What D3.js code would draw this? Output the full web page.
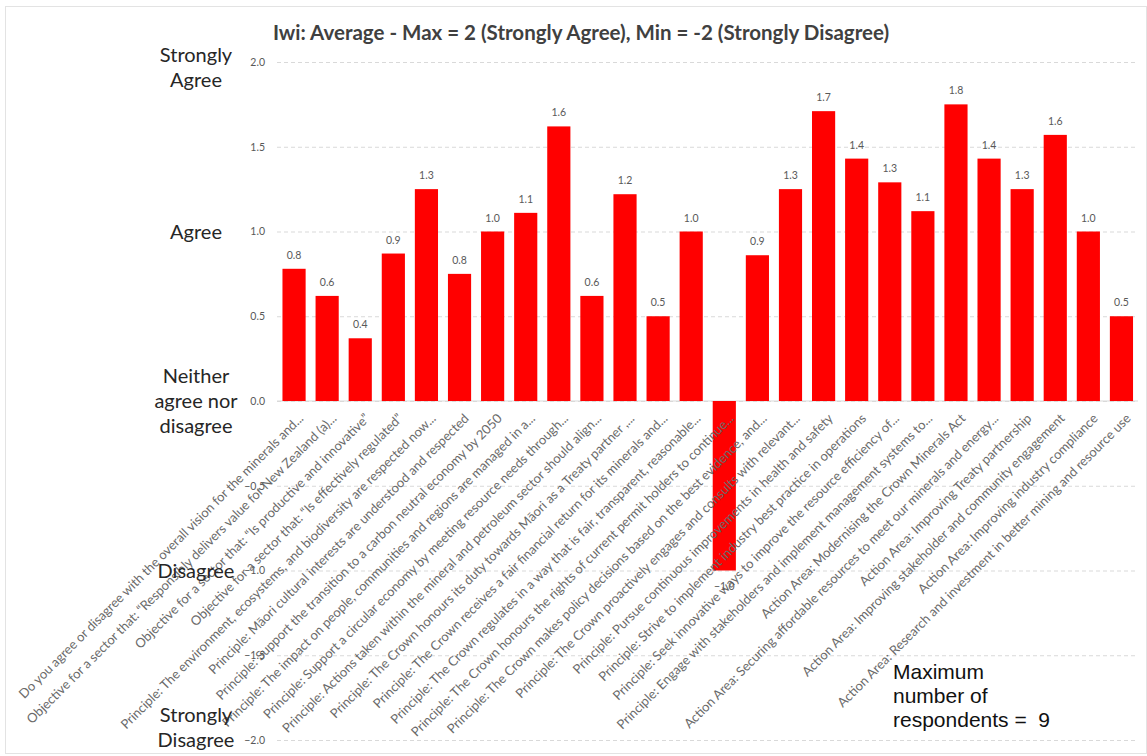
<!DOCTYPE html>
<html>
<head>
<meta charset="utf-8">
<script src="https://cdn.jsdelivr.net/npm/d3@7"></script>
<style>
  html, body { margin: 0; padding: 0; background: #fff; }
  svg { display: block; }
</style>
</head>
<body>
<svg id="chart" width="1147" height="756"></svg>
<script>
const categories = [
  "Do you agree or disagree with the overall vision for the minerals and...",
  "Objective for a sector that: \u201cResponsibly delivers value for New Zealand (a)...",
  "Objective for a sector that: \u201cIs productive and innovative\u201d",
  "Objective for a sector that: \u201cIs effectively regulated\u201d",
  "Principle: The environment, ecosystems, and biodiversity are respected now...",
  "Principle: M\u0101ori cultural interests are understood and respected",
  "Principle: Support the transition to a carbon neutral economy by 2050",
  "Principle: The impact on people, communities and regions are managed in a...",
  "Principle: Support a circular economy by meeting resource needs through...",
  "Principle: Actions taken within the mineral and petroleum sector should align...",
  "Principle: The Crown honours its duty towards M\u0101ori as a Treaty partner ,...",
  "Principle: The Crown receives a fair financial return for its minerals and...",
  "Principle: The Crown regulates in a way that is fair, transparent, reasonable...",
  "Principle: The Crown honours the rights of current permit holders to continue...",
  "Principle: The Crown makes policy decisions based on the best evidence, and...",
  "Principle: The Crown proactively engages and consults with relevant...",
  "Principle: Pursue continuous improvements in health and safety",
  "Principle: Strive to implement industry best practice in operations",
  "Principle: Seek innovative ways to improve the resource efficiency of...",
  "Principle: Engage with stakeholders and implement management systems to...",
  "Action Area: Modernising the Crown Minerals Act",
  "Action Area: Securing affordable resources to meet our minerals and energy...",
  "Action Area: Improving Treaty partnership",
  "Action Area: Improving stakeholder and community engagement",
  "Action Area: Improving industry compliance",
  "Action Area: Research and investment in better mining and resource use"
];
const averages = [0.78, 0.62, 0.37, 0.87, 1.25, 0.75, 1.0, 1.11, 1.62, 0.62, 1.22, 0.5, 1.0,
                  -1.0, 0.86, 1.25, 1.71, 1.43, 1.29, 1.12, 1.75, 1.43, 1.25, 1.57, 1.0, 0.5];
const yTicks = [-2, -1.5, -1, -0.5, 0, 0.5, 1, 1.5, 2];
const scaleLabelValues = [2, 1, 0, -1, -2];
const scaleLabelLines = [["Strongly", "Agree"], ["Agree"], ["Neither", "agree nor", "disagree"], ["Disagree"], ["Strongly", "Disagree"]];
const titleText = "Iwi: Average - Max = 2 (Strongly Agree), Min = -2 (Strongly Disagree)";
const noteLines = ["Maximum", "number of", "respondents =  9"];

const svg = d3.select("#chart");
const W = 1147, H = 756;
const plotLeft = 277, plotRight = 1138;
const font = "Lato, 'Open Sans', sans-serif";

// chart border
svg.append("rect").attr("x", 5.5).attr("y", 6.5).attr("width", W - 6).attr("height", 747)
  .attr("fill", "#fff").attr("stroke", "#e3e3e3").attr("stroke-width", 1);

const x = d3.scaleBand().domain(categories).range([plotLeft + 0.5, plotRight]).paddingInner(0.3).paddingOuter(0.15);
const y = d3.scaleLinear().domain([-2, 2]).range([740, 62]);

// y axis with gridlines
const yAxis = d3.axisLeft(y).tickValues(yTicks).tickFormat(d3.format(".1f"))
  .tickSize(-(plotRight - plotLeft)).tickPadding(12);
const gy = svg.append("g").attr("transform", `translate(${plotLeft},0)`).call(yAxis);
gy.select(".domain").remove();
gy.selectAll(".tick line").attr("stroke", "#d9d9d9").attr("stroke-dasharray", "4,3");
gy.selectAll(".tick text").attr("fill", "#595959").style("font-family", font).style("font-size", "10.5px");

// zero baseline
svg.append("line").attr("x1", plotLeft).attr("x2", plotRight).attr("y1", y(0)).attr("y2", y(0))
  .attr("stroke", "#d9d9d9").attr("stroke-width", 1);

// bars
svg.append("g").selectAll("rect").data(categories).join("rect")
  .attr("x", d => x(d))
  .attr("width", x.bandwidth())
  .attr("y", (d, i) => y(Math.max(0, averages[i])))
  .attr("height", (d, i) => Math.abs(y(averages[i]) - y(0)))
  .attr("fill", "#ff0000");

// category labels
svg.append("g").selectAll("text").data(categories).join("text")
  .attr("transform", d => `translate(${x(d) + x.bandwidth() / 2 + 7},${y(0) + 15}) rotate(-45)`)
  .attr("text-anchor", "end")
  .attr("dy", "0.35em")
  .attr("fill", "#6a6a6a")
  .style("font-family", font).style("font-size", "13px")
  .text(d => d);

// value labels
svg.append("g").selectAll("text").data(categories).join("text")
  .attr("x", d => x(d) + x.bandwidth() / 2)
  .attr("y", (d, i) => averages[i] >= 0 ? y(averages[i]) - 10 : y(averages[i]) + 19)
  .attr("text-anchor", "middle")
  .attr("fill", "#595959")
  .style("font-family", font).style("font-size", "10.5px")
  .text((d, i) => d3.format(".1f")(averages[i]));

// scale labels on the left
const sl = svg.append("g");
const lh = 25;
scaleLabelValues.forEach((v, j) => {
  const lines = scaleLabelLines[j];
  const n = lines.length;
  let first;
  if (v === 2) first = y(v) - 7;            // block hangs just below the top line
  else if (v === -2) first = y(v) - (n - 1) * lh; // last line sits on the bottom line
  else first = y(v) - (n - 1) * lh / 2;     // centred on the gridline
  const t = sl.append("text").attr("text-anchor", "middle").attr("fill", "#262626")
    .style("font-family", font).style("font-size", "20px");
  lines.forEach((line, k) => {
    t.append("tspan").attr("x", 196).attr("y", first + k * lh).attr("dy", "0.35em").text(line);
  });
});

// title
svg.append("text").attr("x", 581).attr("y", 33).attr("dy", "0.35em").attr("text-anchor", "middle")
  .attr("fill", "#404040").style("font-family", font).style("font-size", "20.5px").style("font-weight", "bold")
  .text(titleText);

// note
const note = svg.append("text").attr("fill", "#111")
  .style("font-family", "'Liberation Sans', Arial, sans-serif").style("font-size", "21px")
  .style("white-space", "pre");
noteLines.forEach((line, k) => {
  note.append("tspan").attr("x", 893).attr("y", 672 + k * 24).attr("dy", "0.35em").text(line);
});
</script>
</body>
</html>
